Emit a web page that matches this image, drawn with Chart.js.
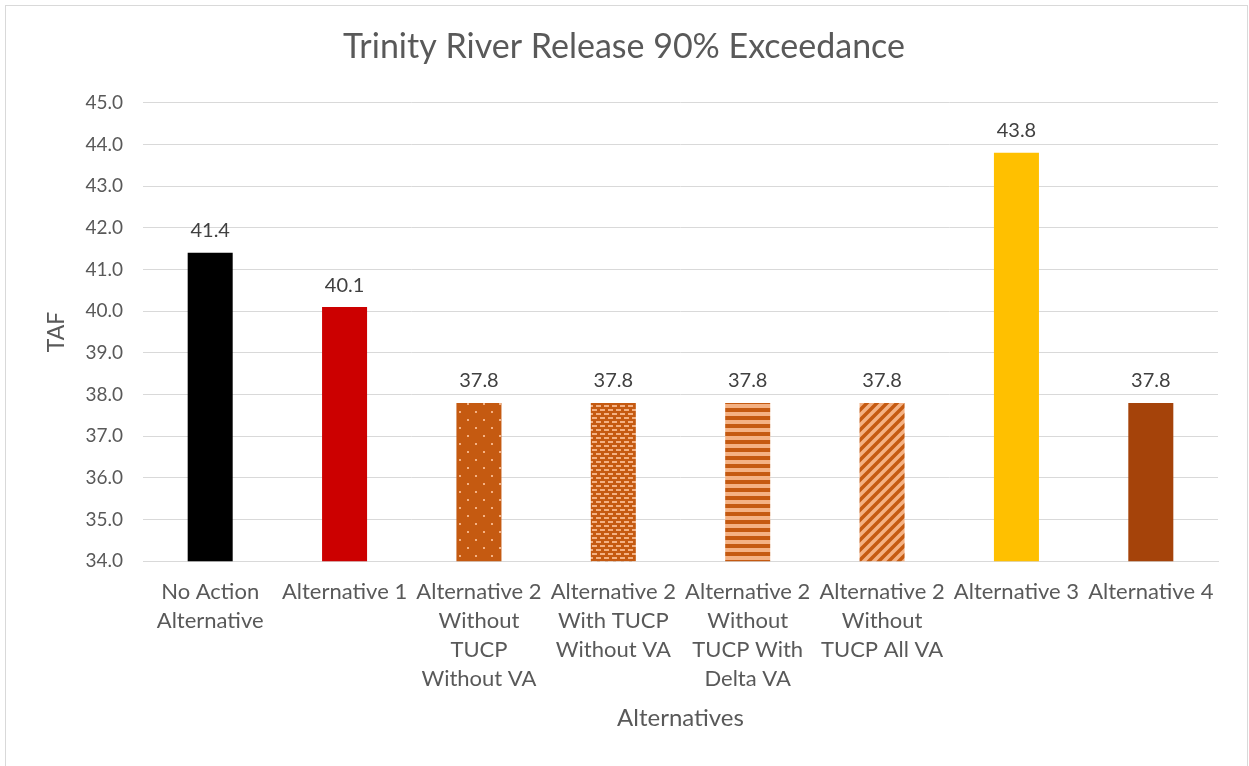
<!DOCTYPE html>
<html>
<head>
<meta charset="utf-8">
<script src="https://cdn.jsdelivr.net/npm/chart.js@4"></script>
<style>
  html, body { margin: 0; padding: 0; background: #fff; overflow: hidden; }
  #c { display: block; }
</style>
</head>
<body>
<canvas id="c" width="1249" height="766"></canvas>
<script>
const categories = [
  ['No Action', 'Alternative'],
  ['Alternative 1'],
  ['Alternative 2', 'Without', 'TUCP', 'Without VA'],
  ['Alternative 2', 'With TUCP', 'Without VA'],
  ['Alternative 2', 'Without', 'TUCP With', 'Delta VA'],
  ['Alternative 2', 'Without', 'TUCP All VA'],
  ['Alternative 3'],
  ['Alternative 4']
];
const values = [41.4, 40.1, 37.8, 37.8, 37.8, 37.8, 43.8, 37.8];
const yMin = 34, yMax = 45, yStep = 1;

const FONT = 'Lato, "Open Sans", sans-serif';
const DARK = '#C55A11', LIGHT = '#F4B183';

function tile(size, draw) {
  const t = document.createElement('canvas');
  t.width = size; t.height = size;
  const g = t.getContext('2d');
  draw(g, size);
  return document.getElementById('c').getContext('2d').createPattern(t, 'repeat');
}

const dots = tile(16, (g) => {
  g.fillStyle = DARK; g.fillRect(0, 0, 16, 16);
  g.fillStyle = LIGHT;
  g.fillRect(3, 3, 2, 2); g.fillRect(11, 11, 2, 2);
});
const bricks = tile(8, (g) => {
  g.fillStyle = DARK; g.fillRect(0, 0, 8, 8);
  g.fillStyle = LIGHT;
  g.fillRect(0, 1, 5, 2); g.fillRect(4, 5, 5, 2); g.fillRect(-4, 5, 5, 2);
});
const stripes = tile(8, (g) => {
  g.fillStyle = LIGHT; g.fillRect(0, 0, 8, 8);
  g.fillStyle = DARK; g.fillRect(0, 0, 8, 4);
});
const diag = tile(10, (g) => {
  g.fillStyle = LIGHT; g.fillRect(0, 0, 10, 10);
  g.strokeStyle = DARK; g.lineWidth = 3.5;
  g.beginPath();
  g.moveTo(-5, 5); g.lineTo(5, -5);
  g.moveTo(0, 10); g.lineTo(10, 0);
  g.moveTo(5, 15); g.lineTo(15, 5);
  g.stroke();
});

const colors = ['#000000', '#CC0000', dots, bricks, stripes, diag, '#FFC000', '#A5430A'];

const frame = {
  id: 'frame',
  beforeDraw(chart) {
    const ctx = chart.ctx;
    ctx.save();
    ctx.fillStyle = '#fff';
    ctx.fillRect(0, 0, chart.width, chart.height);
    ctx.strokeStyle = '#D9D9D9';
    ctx.lineWidth = 1;
    ctx.strokeRect(5.5, 5.5, 1242, 800);
    ctx.restore();
  }
};

const barLabels = {
  id: 'barLabels',
  afterDatasetsDraw(chart) {
    const ctx = chart.ctx;
    const meta = chart.getDatasetMeta(0);
    ctx.save();
    ctx.font = '20px ' + FONT;
    ctx.fillStyle = '#404040';
    ctx.textAlign = 'center';
    ctx.textBaseline = 'middle';
    meta.data.forEach((bar, i) => {
      ctx.fillText(values[i].toFixed(1), bar.x, bar.y - 22);
    });
    ctx.restore();
  }
};

new Chart(document.getElementById('c'), {
  type: 'bar',
  data: {
    labels: categories,
    datasets: [{
      data: values,
      backgroundColor: colors,
      borderWidth: 0,
      barPercentage: 0.335,
      categoryPercentage: 1
    }]
  },
  options: {
    responsive: false,
    animation: false,
    layout: { padding: { left: 30, right: 31, top: 15, bottom: 29 } },
    plugins: {
      legend: { display: false },
      tooltip: { enabled: false },
      title: {
        display: true,
        text: 'Trinity River Release 90% Exceedance',
        color: '#595959',
        font: { family: FONT, size: 34, weight: 'normal' },
        padding: { top: 12, bottom: 35 }
      }
    },
    scales: {
      x: {
        grid: { display: false, drawTicks: false },
        border: { display: true, color: '#D9D9D9', width: 1 },
        ticks: {
          color: '#595959',
          font: { family: FONT, size: 22, lineHeight: 1.32 },
          padding: 16,
          maxRotation: 0,
          autoSkip: false
        },
        title: {
          display: true,
          text: 'Alternatives',
          color: '#595959',
          font: { family: FONT, size: 24, lineHeight: 0.73 },
          padding: { top: 0, bottom: 10 }
        }
      },
      y: {
        min: yMin,
        max: yMax,
        afterFit(scale) { scale.width = 113; },
        grid: { color: '#D9D9D9', lineWidth: 1, drawTicks: false },
        border: { display: false },
        ticks: {
          stepSize: yStep,
          color: '#595959',
          font: { family: FONT, size: 19 },
          padding: 20,
          callback: (v) => Number(v).toFixed(1)
        },
        title: {
          display: true,
          text: 'TAF',
          color: '#595959',
          font: { family: FONT, size: 23 },
          padding: { top: 13, bottom: 4 }
        }
      }
    }
  },
  plugins: [frame, barLabels]
});
</script>
</body>
</html>
